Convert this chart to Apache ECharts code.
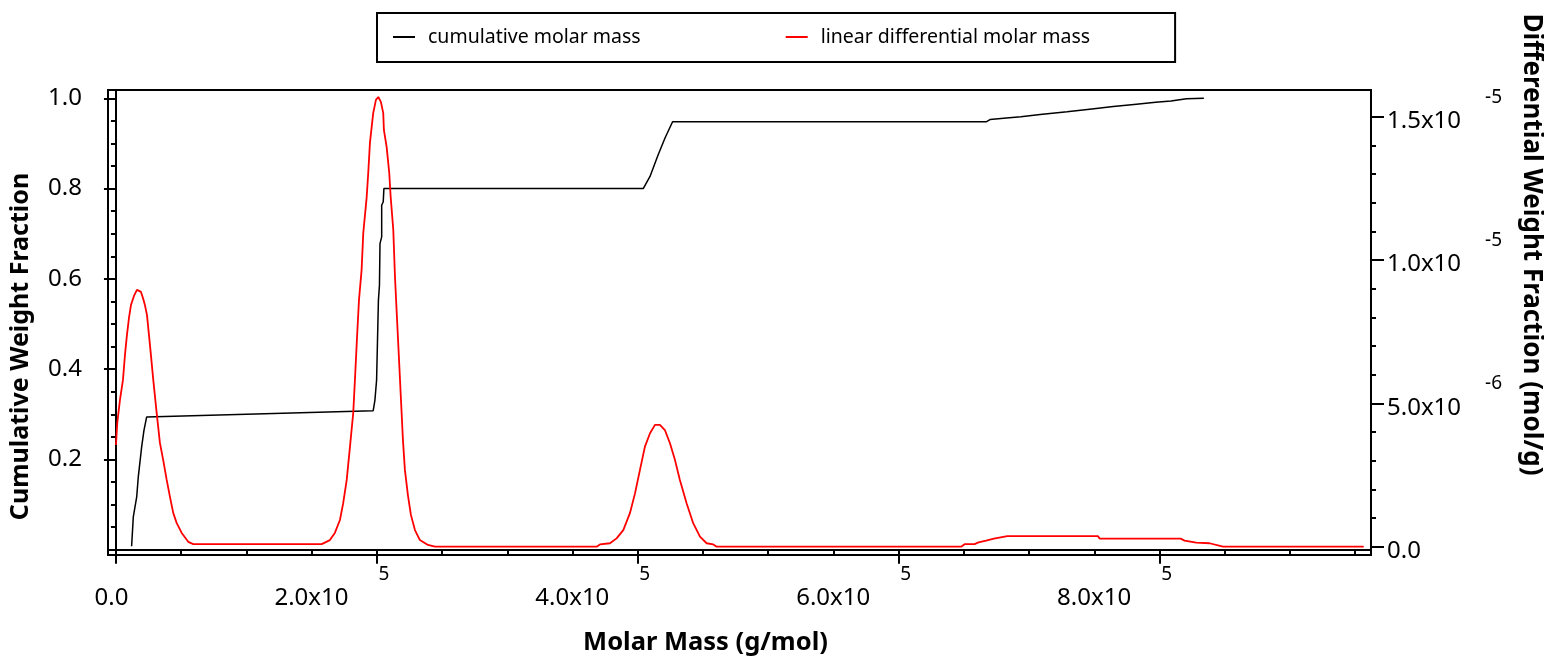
<!DOCTYPE html>
<html>
<head>
<meta charset="utf-8">
<script src="https://cdn.jsdelivr.net/npm/echarts@6/dist/echarts.min.js"></script>
<style>
  html, body { margin: 0; padding: 0; background: #fff; }
  #chart { width: 1544px; height: 658px; }
</style>
</head>
<body>
<div id="chart"></div>
<script>
// cumulative molar mass (g/mol) -> cumulative weight fraction
const cumMass = [12000, 13300, 15900, 17100, 19700, 21500, 23500,
  197200, 198500, 199800, 200500, 201200, 202000, 202400, 203700, 203700, 204900, 205400,
  404200, 409400, 415500, 420900, 426700,
  667100, 670000, 684800, 693700, 708500, 729100, 749800, 764500, 782300, 797000, 808800, 820600, 834000];
const cumFrac = [0.008, 0.073, 0.117, 0.161, 0.228, 0.265, 0.294,
  0.308, 0.331, 0.376, 0.464, 0.553, 0.586, 0.678, 0.693, 0.763, 0.771, 0.800,
  0.800, 0.827, 0.874, 0.912, 0.948,
  0.948, 0.953, 0.957, 0.959, 0.964, 0.970, 0.977, 0.982, 0.987, 0.991, 0.994, 0.999, 1.0];

// linear differential molar mass, values in 1e-6 mol/g
const diffMass = [0, 1000, 3070, 5370, 6900, 8430, 9970, 11500, 13800, 16100,
  17600, 19200, 20700, 22200, 23800, 25300, 26800, 28600, 31200, 33700,
  36200, 38900, 41400, 43900, 46500, 50400, 55400, 59300,
  157700, 164000, 167800, 171700, 174200, 176900, 179400, 181900, 183200, 184700,
  186300, 188300, 189600, 192200, 193400, 194700, 197200, 199300, 201100, 203100,
  204900, 205400, 207500, 209500, 210600, 212600, 213900, 215500, 217000, 218500,
  220000, 221500, 223800, 226100, 229200, 233000, 239200, 244500,
  368500, 371000, 378700, 383800, 388900, 394000, 397900, 401700, 405500, 409400,
  413200, 417000, 420800, 424700, 428500, 432300, 437500, 442500, 447700, 452800,
  457900, 460500,
  647900, 650800, 658200, 661200, 667100, 673000, 683300, 752700, 754200, 816200,
  819200, 828100, 838300, 848700, 956500];
const diffFracE6 = [3.55, 4.32, 5.12, 5.82, 6.69, 7.39, 7.98, 8.43, 8.75, 8.96,
  8.99, 8.89, 8.68, 8.43, 8.08, 7.39, 6.69, 5.82, 4.67, 3.62,
  3.03, 2.33, 1.74, 1.18, 0.83, 0.48, 0.17, 0.09,
  0.09, 0.23, 0.48, 0.93, 1.52, 2.33, 3.49, 4.67, 5.82, 7.21,
  8.61, 9.65, 10.95, 12.20, 13.04, 14.09, 15.13, 15.59, 15.69, 15.52,
  15.13, 14.54, 13.95, 13.04, 12.20, 11.05, 9.41, 7.91, 6.52, 5.12,
  3.72, 2.68, 1.80, 1.11, 0.58, 0.23, 0.06, 0,
  0, 0.08, 0.12, 0.29, 0.58, 1.17, 1.86, 2.68, 3.49, 3.96,
  4.25, 4.25, 4.07, 3.61, 3.03, 2.33, 1.51, 0.82, 0.35, 0.12,
  0.08, 0,
  0, 0.09, 0.09, 0.15, 0.21, 0.28, 0.37, 0.37, 0.28, 0.28,
  0.21, 0.14, 0.12, 0, 0];

// tick positions
const xTicks = [0, 200000, 400000, 600000, 800000];
const leftTicks = [0.2, 0.4, 0.6, 0.8, 1.0];
const rightTicks = [0, 5e-6, 1e-5, 1.5e-5];

const xMinor = [];
for (let i = 1; i <= 19; i++) if (i % 4) xMinor.push(i * 50000);
const leftMinor = [];
for (let i = 1; i <= 19; i++) if (i % 4) leftMinor.push(+(i * 0.05).toFixed(2));
const rightMinor = [];
for (let i = 1; i <= 14; i++) if (i % 5) rightMinor.push(i * 1e-6);

const chart = echarts.init(document.getElementById("chart"));

// labels like 2.0x10 with the exponent set high and to the right
const fmtX = v => v === 0
  ? "{z|0.0}{q| }"
  : "{m|" + (v / 1e5).toFixed(1) + "x10}{e|5}{s| }";

const fmtR = v => {
  if (v === 0) return "{m|0.0}";
  const ex = Math.floor(Math.log10(v) + 1e-9);
  return "{m|" + (v / Math.pow(10, ex)).toFixed(1) + "x10}{e|" + ex + "}";
};

const tok = (size, lh, h, top, left, extra) => Object.assign({
  fontSize: size, lineHeight: lh, height: h, verticalAlign: "top",
  padding: [top, 0, 0, left || 0], color: "#000"
}, extra || {});

const minorAxis = (extra, vals, len) => Object.assign({
  type: "value",
  axisLine: { show: false },
  axisLabel: { show: false },
  splitLine: { show: false },
  axisTick: { show: true, customValues: vals, length: len, lineStyle: { color: "#000", width: 2 } }
}, extra);

const nameStyle = (size, pad) => ({ fontSize: size, fontWeight: "bold", color: "#000", padding: pad });

chart.setOption({
  animation: false,
  textStyle: { fontFamily: "Noto Sans", color: "#000" },
  grid: {
    left: 108, right: 173, top: 90, bottom: 103,
    show: true, borderColor: "#000", borderWidth: 2,
    outerBoundsMode: "none"
  },
  legend: {
    left: 377, top: 13,
    borderColor: "#000", borderWidth: 2,
    padding: [13, 85, 14, 16],
    icon: "rect", itemWidth: 22, itemHeight: 2, itemGap: 145,
    textStyle: { fontSize: 19.5, lineHeight: 22, color: "#000", padding: [0, 0, 0, 8] },
    data: ["cumulative molar mass", "linear differential molar mass"]
  },
  xAxis: [
    {
      type: "value", position: "bottom",
      min: -6100, max: 962100,
      name: "Molar Mass (g/mol)", nameLocation: "middle", nameGap: 75,
      nameTextStyle: nameStyle(25.5, [0, 68, 0, 0]),
      axisLine: { show: true, lineStyle: { color: "#000", width: 2 } },
      axisTick: { show: true, customValues: xTicks, length: 14, lineStyle: { color: "#000", width: 2 } },
      splitLine: { show: false },
      axisLabel: {
        customValues: xTicks, margin: 8, formatter: fmtX,
        rich: {
          m: tok(24, 52, 28, 21),
          z: tok(24, 52, 28, 21),
          e: tok(19, 52, 20, 1.5, 30),
          s: tok(19, 52, 20, 1.5, 0, { width: 90 }),
          q: tok(19, 52, 20, 1.5, 0, { width: 9 })
        }
      }
    },
    minorAxis({ position: "bottom", min: -6100, max: 962100 }, xMinor, 6)
  ],
  yAxis: [
    {
      type: "value", position: "left",
      min: -0.0115, max: 1.0184,
      name: "Cumulative Weight Fraction", nameLocation: "middle", nameGap: 75, nameRotate: 90,
      nameTextStyle: nameStyle(25, [0, 48, 0, 0]),
      axisLine: { show: true, lineStyle: { color: "#000", width: 2 } },
      axisTick: { show: true, customValues: leftTicks, length: 12, lineStyle: { color: "#000", width: 2 } },
      splitLine: { show: false },
      axisLabel: {
        customValues: leftTicks, margin: 26, fontSize: 24, color: "#000",
        formatter: v => v.toFixed(1)
      }
    },
    minorAxis({ position: "left", min: -0.0115, max: 1.0184 }, leftMinor, 5),
    {
      type: "value", position: "right",
      min: -0.29e-6, max: 15.935e-6,
      name: "Differential Weight Fraction (mol/g)", nameLocation: "middle", nameGap: 147, nameRotate: -90,
      nameTextStyle: nameStyle(26, [0, 156, 0, 0]),
      axisLine: { show: true, lineStyle: { color: "#000", width: 2 } },
      axisTick: { show: true, customValues: rightTicks, length: 13, lineStyle: { color: "#000", width: 2 } },
      splitLine: { show: false },
      axisLabel: {
        customValues: rightTicks, margin: 16, formatter: fmtR,
        rich: {
          m: tok(24, 62, 28, 21.3),
          e: tok(19, 62, 20, 1.3, 24)
        }
      }
    },
    minorAxis({ position: "right", min: -0.29e-6, max: 15.935e-6 }, rightMinor, 5)
  ],
  series: [
    {
      name: "cumulative molar mass", type: "line",
      xAxisIndex: 0, yAxisIndex: 0,
      data: cumMass.map((m, i) => [m, cumFrac[i]]),
      symbol: "none", showSymbol: false,
      lineStyle: { color: "#000", width: 1.5 },
      itemStyle: { color: "#000" }
    },
    {
      name: "linear differential molar mass", type: "line",
      xAxisIndex: 0, yAxisIndex: 2,
      data: diffMass.map((m, i) => [m, diffFracE6[i] * 1e-6]),
      symbol: "none", showSymbol: false,
      lineStyle: { color: "#ff0000", width: 1.8 },
      itemStyle: { color: "#ff0000" }
    }
  ]
});

window.addEventListener("resize", () => chart.resize());
</script>
</body>
</html>
